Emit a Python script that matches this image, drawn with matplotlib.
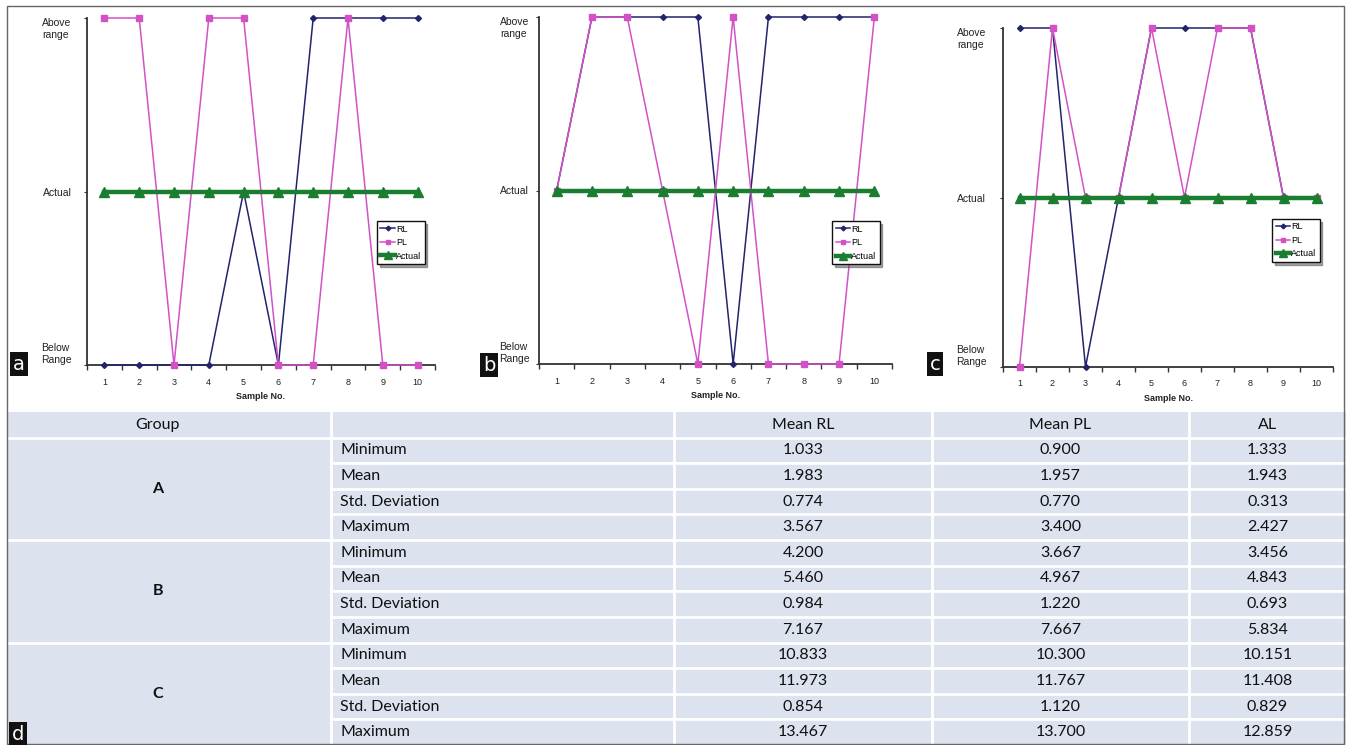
import matplotlib.pyplot as plt
from matplotlib.patches import Rectangle

W, H = 1346, 745

# sample numbers and range levels (0 = Below Range, 1 = Actual, 2 = Above range)
samples = list(range(1, 11))
level_labels = ['Below\nRange', 'Actual', 'Above\nrange']

rl_a = [0, 0, 0, 0, 1, 0, 2, 2, 2, 2]
pl_a = [2, 2, 0, 2, 2, 0, 0, 2, 0, 0]
rl_b = [1, 2, 2, 2, 2, 0, 2, 2, 2, 2]
pl_b = [1, 2, 2, 1, 0, 2, 0, 0, 0, 2]
rl_c = [2, 2, 0, 1, 2, 2, 2, 2, 1, 1]
pl_c = [0, 2, 1, 1, 2, 1, 2, 2, 1, 1]
actual = [1, 1, 1, 1, 1, 1, 1, 1, 1, 1]

# table d
headers = ['Group', '', 'Mean RL', 'Mean PL', 'AL']
groups = ['A', 'B', 'C']
stats = ['Minimum', 'Mean', 'Std. Deviation', 'Maximum']
mean_rl = [1.033, 1.983, 0.774, 3.567, 4.200, 5.460, 0.984, 7.167, 10.833, 11.973, 0.854, 13.467]
mean_pl = [0.900, 1.957, 0.770, 3.400, 3.667, 4.967, 1.220, 7.667, 10.300, 11.767, 1.120, 13.700]
al = [1.333, 1.943, 0.313, 2.427, 3.456, 4.843, 0.693, 5.834, 10.151, 11.408, 0.829, 12.859]

RL_COL = '#23236e'
PL_COL = '#d252c6'
ACT_COL = '#1b7d2f'
narrow = ['Liberation Sans', 'DejaVu Sans']

fig = plt.figure(figsize=(W / 100, H / 100), dpi=100)


def px_axes(left, top, right, bottom):
    return fig.add_axes([left / W, 1 - bottom / H, (right - left) / W, (bottom - top) / H])


def panel(ax, rl, pl, leg_xy, ypad):
    ax.plot(samples, rl, color=RL_COL, lw=1.1, marker='D', ms=3, label='RL', clip_on=False, zorder=3)
    ax.plot(samples, pl, color=PL_COL, lw=1.1, marker='s', ms=4, label='PL', clip_on=False, zorder=4)
    ax.plot(samples, actual, color=ACT_COL, lw=3.2, marker='^', ms=7, label='Actual', clip_on=False, zorder=5)
    ax.set_xlim(0.5, 10.5)
    ax.set_ylim(0, 2)
    for s in ['top', 'right']:
        ax.spines[s].set_visible(False)
    for s in ['left', 'bottom']:
        ax.spines[s].set_color('#333333')
        ax.spines[s].set_linewidth(1.3)
    ax.set_xticks(samples)
    ax.set_xticklabels([str(s) for s in samples], family=narrow, fontsize=6.5, color='#222222')
    ax.set_xticks([x + 0.5 for x in range(0, 11)], minor=True)
    ax.tick_params(axis='x', which='major', length=0, pad=9)
    ax.tick_params(axis='x', which='minor', length=3.5, width=1, color='#333333', direction='out')
    ax.set_yticks([0, 1, 2])
    ax.set_yticklabels(level_labels, family=narrow, fontsize=7.5, color='#222222')
    ax.tick_params(axis='y', length=2, width=0.8, color='#333333', pad=ypad)
    tl = ax.get_yticklabels()
    tl[0].set_va('bottom')
    tl[2].set_va('top')
    for t in tl:
        t.set_multialignment('left')
    ax.set_xlabel('Sample No.', family=narrow, fontsize=6.5, fontweight='bold', labelpad=4, color='#222222')
    leg = ax.legend(loc='upper left', bbox_to_anchor=leg_xy, borderaxespad=0, prop={'family': narrow, 'size': 6.5},
                    frameon=True, fancybox=False, shadow=True, handlelength=1.6, handletextpad=0.1,
                    borderpad=0.4, labelspacing=0.5, markerscale=0.8)
    leg.get_frame().set_edgecolor('#111111')
    leg.get_frame().set_linewidth(1.0)


ax_a = px_axes(87, 18, 435, 365)
panel(ax_a, rl_a, pl_a, (0.833, 0.415), 9)
ax_b = px_axes(539, 17, 892, 364)
panel(ax_b, rl_b, pl_b, (0.83, 0.412), 5)
ax_c = px_axes(1003, 28, 1333, 367)
panel(ax_c, rl_c, pl_c, (0.815, 0.437), 10)

# table
ax_t = px_axes(7, 412, 1346, 745)
ax_t.set_xlim(7, 1346)
ax_t.set_ylim(13, 0)
ax_t.axis('off')
ax_t.add_patch(Rectangle((7, 0), 1339, 13, facecolor='#dce3ef', edgecolor='none'))
col_edges = [7, 331, 674, 932, 1189, 1346]
for x in col_edges[1:-1]:
    ax_t.plot([x, x], [0, 13], color='white', lw=2)
for r in range(1, 13):
    x0 = col_edges[0] if (r - 1) % 4 == 0 else col_edges[1]
    ax_t.plot([x0, 1346], [r, r], color='white', lw=2)

tfont = dict(family=['Lato', 'DejaVu Sans'], fontsize=11.5, color='#101010')
centers = [158] + [(col_edges[i] + col_edges[i + 1]) / 2 for i in range(1, 5)]
for i, h in enumerate(headers):
    ax_t.text(centers[i], 0.5, h, ha='center', va='center', **tfont)
for g, name in enumerate(groups):
    ax_t.text(158, 1 + g * 4 + 2, name, ha='center', va='center', fontweight='bold', **tfont)
    for k, st in enumerate(stats):
        r = 1 + g * 4 + k + 0.5
        ax_t.text(340, r, st, ha='left', va='center', **tfont)
for i in range(12):
    r = 1 + i + 0.5
    ax_t.text(centers[2], r, '%.3f' % mean_rl[i], ha='center', va='center', **tfont)
    ax_t.text(centers[3], r, '%.3f' % mean_pl[i], ha='center', va='center', **tfont)
    ax_t.text(centers[4], r, '%.3f' % al[i], ha='center', va='center', **tfont)

# outer frame
fig.add_artist(Rectangle((7 / W, 1 / H), 1337 / W, 738 / H, transform=fig.transFigure,
                         facecolor='none', edgecolor='#666666', lw=1))

# panel letters
for letter, x, y in [('a', 19, 364), ('b', 489, 365), ('c', 935, 364), ('d', 18, 734)]:
    fig.text(x / W, 1 - y / H, letter, color='white', fontsize=14, ha='center', va='center',
             family='DejaVu Sans', bbox=dict(boxstyle='square,pad=0.15', facecolor='#111111', edgecolor='none'))

fig.savefig('out.png', dpi=100)
